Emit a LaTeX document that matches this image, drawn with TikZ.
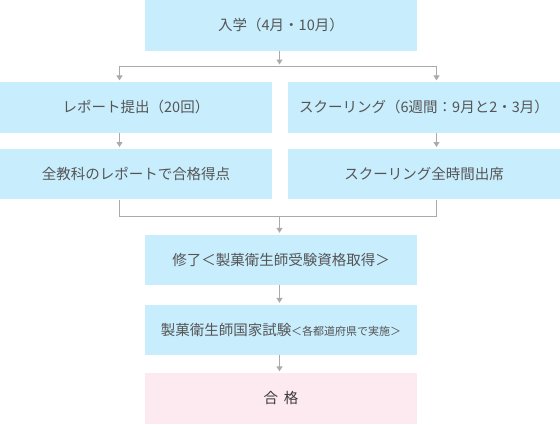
\documentclass[tikz,border=0pt]{standalone}
\usepackage{fontspec}
\setmainfont{Noto Sans CJK JP}
\usetikzlibrary{arrows.meta}
\definecolor{boxblue}{HTML}{C8EDFD}
\definecolor{boxpink}{HTML}{FDE9F0}
\definecolor{textgray}{HTML}{555555}
\definecolor{textdark}{HTML}{3A3A3A}
\definecolor{linegray}{HTML}{AAAAAA}

\begin{document}
\begin{tikzpicture}[x=1pt,y=-1pt,
	stagebox/.style={fill=boxblue,text=textgray,minimum width=272pt,minimum height=50.6pt,inner sep=0pt,font=\fontsize{14.5}{17}\selectfont},
	passbox/.style={stagebox,fill=boxpink,text=textdark},
	link/.style={linegray,line width=1pt},
	arr/.style={link,-{Triangle[width=6pt,length=5pt]},shorten >=1.5pt}]
			\useasboundingbox (0,0) rectangle (560,424);
			
			% boxes
			\node[stagebox] (entry) at (281,25.3) {入学（4月・10月）};
			\node[stagebox] (report) at (136,107.4) {レポート提出（20回）};
			\node[stagebox] (school) at (424,107.4) {スクーリング（6週間：9月と2・3月）};
			\node[stagebox] (score) at (136,174) {全教科のレポートで合格得点};
			\node[stagebox] (attend) at (424,174) {スクーリング全時間出席};
			\node[stagebox] (finish) at (281,259.8) {修了＜製菓衛生師受験資格取得＞};
			\node[stagebox] (exam) at (281,329.8) {製菓衛生師国家試験{\fontsize{11}{13}\selectfont ＜各都道府県で実施＞}};
			\node[passbox] (pass) at (281,398.3) {合\hspace{0.4em}格};
			
			% fork and join
			\coordinate (split) at (279.5,66);
			\coordinate (forkL) at (119.5,66);
			\coordinate (forkR) at (436.5,66);
			\coordinate (joinL) at (119.5,216);
			\coordinate (joinR) at (436.5,216);
			\coordinate (join) at (279.5,216);
			
			\draw[arr] (entry.south -| split) -- (split);
			\draw[link] (forkL) -- (forkR);
			\draw[arr] (forkL) -- (report.north -| forkL);
			\draw[arr] (forkR) -- (school.north -| forkR);
			\draw[arr] (report.south -| forkL) -- (score.north -| forkL);
			\draw[arr] (school.south -| forkR) -- (attend.north -| forkR);
			\draw[link] (score.south -| joinL) -- (joinL) -- (joinR) -- (attend.south -| joinR);
			\draw[arr] (join) -- (finish.north -| join);
			\draw[arr] (finish.south -| join) -- (exam.north -| join);
			\draw[arr] (exam.south -| join) -- (pass.north -| join);
			\end{tikzpicture}
\end{document}
